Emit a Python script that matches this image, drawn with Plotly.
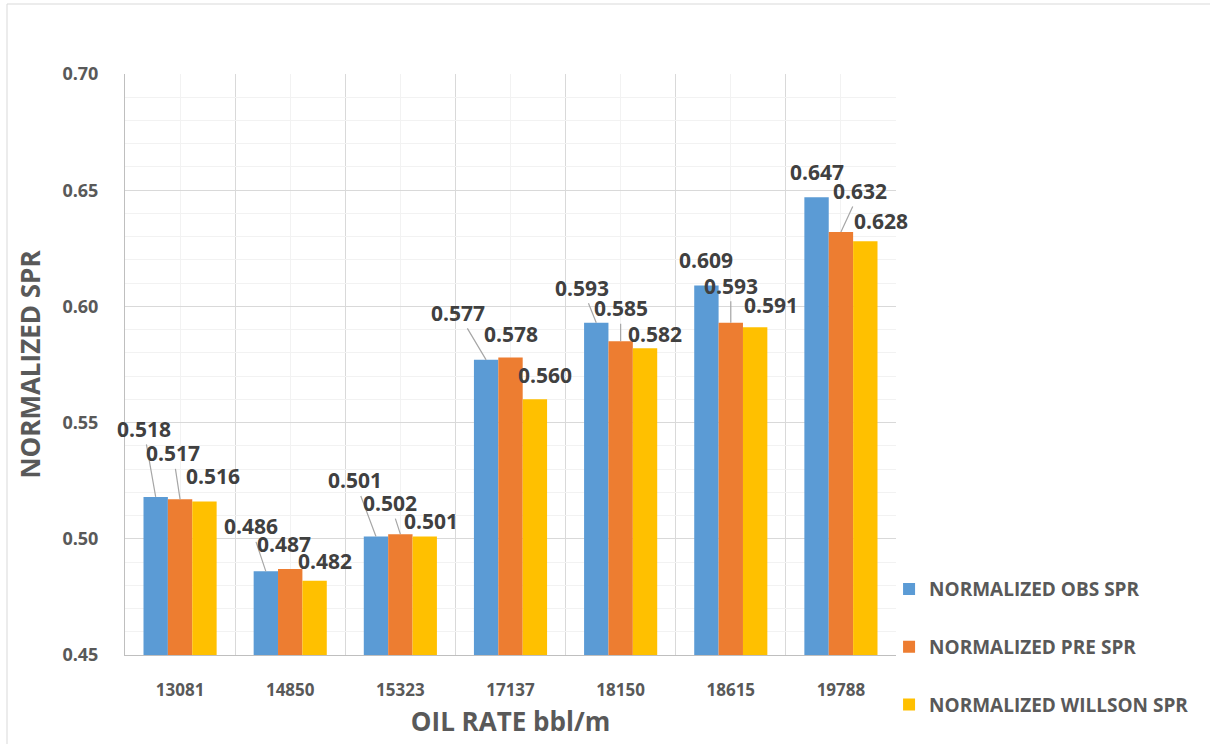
import plotly.graph_objects as go

# Oil rate categories (bbl/m)
oil_rates = ["13081", "14850", "15323", "17137", "18150", "18615", "19788"]

# Normalized SPR per method
obs_spr = [0.518, 0.486, 0.501, 0.577, 0.593, 0.609, 0.647]
pre_spr = [0.517, 0.487, 0.502, 0.578, 0.585, 0.593, 0.632]
willson_spr = [0.516, 0.482, 0.501, 0.560, 0.582, 0.591, 0.628]

series_names = ["NORMALIZED OBS SPR", "NORMALIZED PRE SPR", "NORMALIZED WILLSON SPR"]
series_colors = ["#5B9BD5", "#ED7D31", "#FFC000"]
series_values = [obs_spr, pre_spr, willson_spr]

# Pixel offsets (dx, dy) of each data label from the top of its bar, and
# whether a leader line is drawn back to the bar
label_offsets = [
    [(-12, -68, True), (-15, -45, True), (-21, -56, True), (-28, -47, True),
     (-14, -35, True), (0, -25, False), (0, -25, False)],
    [(-7, -46, True), (-6, -25, False), (-10, -31, True), (0, -24, False),
     (0, -33, True), (0, -37, True), (19, -41, True)],
    [(9, -26, False), (10, -20, False), (6, -15, False), (10, -24, False),
     (10, -14, False), (16, -22, False), (16, -20, False)],
]

BARGAP = 0.336
bar_w = (1 - BARGAP) / 3
xpos = list(range(len(oil_rates)))

fig = go.Figure()
for k, (name, color, vals) in enumerate(zip(series_names, series_colors, series_values)):
    fig.add_trace(go.Bar(
        x=xpos, y=vals, name=name, marker=dict(color=color, line=dict(width=0)),
        offsetgroup=str(k), legendgroup=str(k),
    ))

label_font = dict(family="Open Sans", size=21, color="#404040", weight="bold")
annotations = []
for k, vals in enumerate(series_values):
    for i, v in enumerate(vals):
        dx, dy, leader = label_offsets[k][i]
        annotations.append(dict(
            x=i + (k - 1) * bar_w, y=v, xref="x", yref="y",
            text=f"{v:.3f}", font=label_font,
            showarrow=True, ax=dx, ay=dy, arrowhead=0, standoff=0,
            arrowwidth=1.2,
            arrowcolor="#a6a6a6" if leader else "rgba(0,0,0,0)",
        ))

tick_font = dict(family="Open Sans", size=18, color="#595959", weight="bold")
title_font = dict(family="Open Sans", size=26, color="#595959", weight="bold")

fig.update_layout(
    width=1210, height=744,
    margin=dict(l=125, r=314, t=74, b=89),
    paper_bgcolor="white", plot_bgcolor="white",
    barmode="group", bargap=BARGAP, bargroupgap=0,
    annotations=annotations,
    legend=dict(
        x=0.991, xanchor="left", y=0.146, yanchor="top",
        font=dict(family="Open Sans", size=19, color="#595959", weight="bold"),
        traceorder="grouped", tracegroupgap=30,
        bgcolor="rgba(0,0,0,0)",
    ),
    xaxis=dict(
        range=[-0.5, len(oil_rates) - 0.5],
        tickmode="array", tickvals=xpos, ticktext=oil_rates,
        tickfont=dict(family="Open Sans", size=17, color="#595959", weight="bold"),
        showgrid=True, gridcolor="#f2f2f2", gridwidth=1,
        minor=dict(tickvals=[i - 0.5 for i in range(len(oil_rates) + 1)],
                   showgrid=True, gridcolor="#d9d9d9", gridwidth=1),
        showline=True, linecolor="#bfbfbf", linewidth=1,
        ticks="", ticklabelstandoff=20, zeroline=False,
        title=dict(text="OIL RATE bbl/m", font=title_font, standoff=12),
        fixedrange=True,
    ),
    yaxis=dict(
        range=[0.45, 0.70], dtick=0.05, tick0=0.45, tickformat=".2f",
        tickfont=tick_font,
        showgrid=True, gridcolor="#d9d9d9", gridwidth=1,
        minor=dict(dtick=0.01, showgrid=True, gridcolor="#f2f2f2", gridwidth=1),
        showline=True, linecolor="#bfbfbf", linewidth=1,
        ticks="", ticklabelstandoff=22, zeroline=False,
        title=dict(text="NORMALIZED SPR", font=title_font, standoff=14),
        fixedrange=True,
    ),
    shapes=[dict(type="rect", xref="paper", yref="paper",
                 x0=(7 - 125) / 771, x1=1.6, y0=-0.5, y1=(655 - 4) / 581,
                 line=dict(color="#d9d9d9", width=1), fillcolor="rgba(0,0,0,0)",
                 layer="below")],
)

fig.write_html("out.html")
